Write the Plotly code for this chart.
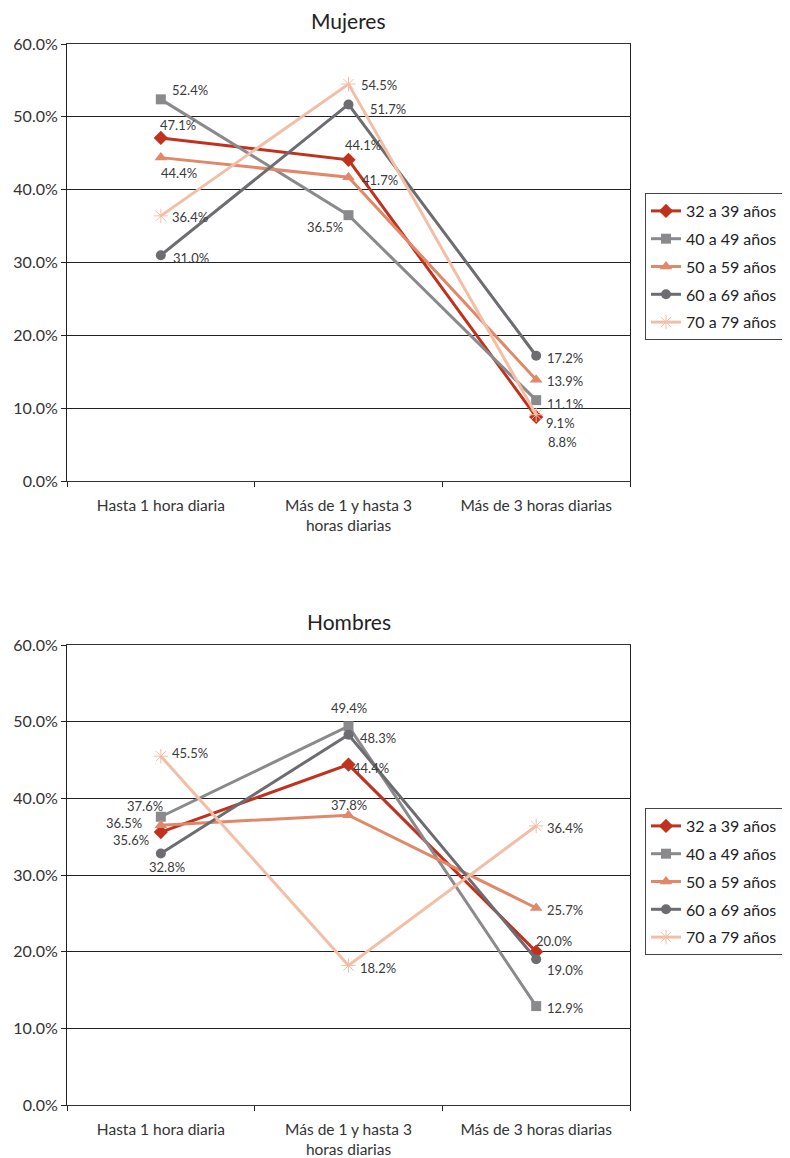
import plotly.graph_objects as go

categories = ["Hasta 1 hora diaria", "Más de 1 y hasta 3<br>horas diarias", "Más de 3 horas diarias"]
series_names = ["32 a 39 años", "40 a 49 años", "50 a 59 años", "60 a 69 años", "70 a 79 años"]

mujeres_32_39 = [47.1, 44.1, 8.8]
mujeres_40_49 = [52.4, 36.5, 11.1]
mujeres_50_59 = [44.4, 41.7, 13.9]
mujeres_60_69 = [31.0, 51.7, 17.2]
mujeres_70_79 = [36.4, 54.5, 9.1]

hombres_32_39 = [35.6, 44.4, 20.0]
hombres_40_49 = [37.6, 49.4, 12.9]
hombres_50_59 = [36.5, 37.8, 25.7]
hombres_60_69 = [32.8, 48.3, 19.0]
hombres_70_79 = [45.5, 18.2, 36.4]

y_ticks = [0, 10, 20, 30, 40, 50, 60]

# styles
colors = ["#C0311E", "#8A8A8D", "#E08868", "#6C6C71", "#F2BFA6"]
symbols = ["diamond", "square", "triangle-up", "circle", "asterisk-open"]
FONT = "Lato"

# label offsets in pixels (xshift, yshift) per series per point
off_m = [
    [(17, 13), (14, 15), (26, -25)],
    [(29, 9), (-24, -12), (29, -4)],
    [(18, -15), (31, -3), (29, -1)],
    [(30, -3), (39, -5), (29, -2)],
    [(29, -1), (30, -1), (24, -8)],
]
off_h = [
    [(-30, -8), (22, -3), (18, 11)],
    [(-16, 11), (0, 18), (29, -2)],
    [(-37, 2), (0, 10), (29, -2)],
    [(6, -13), (29, -3), (29, -11)],
    [(29, 3), (29, -3), (29, -2)],
]

W, H = 790, 1158
OFF = 8  # page body margin
fig = go.Figure()

panels = [
    ("Mujeres", [mujeres_32_39, mujeres_40_49, mujeres_50_59, mujeres_60_69, mujeres_70_79], off_m,
     "x", "y", "legend", (44 - OFF, 481 - OFF), 193 - OFF),
    ("Hombres", [hombres_32_39, hombres_40_49, hombres_50_59, hombres_60_69, hombres_70_79], off_h,
     "x2", "y2", "legend2", (645 - OFF, 1105 - OFF), 808 - OFF),
]

x0, x1 = 67 - OFF, 630 - OFF
layout_updates = {}
annotations = []
for pi, (title, data, offs, xa, ya, lg, (ytop, ybot), legtop) in enumerate(panels):
    for si, (name, vals) in enumerate(zip(series_names, data)):
        is_ast = symbols[si].startswith("asterisk")
        fig.add_trace(go.Scatter(
            x=categories, y=vals, name=name, mode="lines+markers",
            xaxis=xa, yaxis=ya, legend=lg, legendgroup=f"{lg}_{si}",
            line=dict(color=colors[si], width=3),
            marker=dict(symbol=symbols[si], size=12 if is_ast else (11 if si in (0, 2) else 10),
                        color=colors[si],
                        line=dict(color=colors[si], width=1 if is_ast else 0)),
        ))
        for ci, v in enumerate(vals):
            dx, dy = offs[si][ci]
            annotations.append(dict(
                x=categories[ci], y=v, xref=xa, yref=ya, text=f"{v:.1f}%",
                showarrow=False, xshift=dx, yshift=dy,
                font=dict(family=FONT, size=13, color="#3a3a3a"),
            ))
    annotations.append(dict(
        x=(x0 + x1) / 2 / W, y=1 - (ytop - 24) / H, xref="paper", yref="paper",
        text=title, showarrow=False, yanchor="middle",
        font=dict(family=FONT, size=21, color="#222"),
    ))
    ydom = [1 - ybot / H, 1 - ytop / H]
    sfx = "" if pi == 0 else "2"
    layout_updates["xaxis" + sfx] = dict(
        domain=[x0 / W, x1 / W], anchor=ya, type="category", tickson="boundaries",
        ticks="outside", ticklen=5, tickcolor="#222", automargin=False,
        ticklabelstandoff=10,
        showline=True, linecolor="#333", linewidth=1, mirror=True,
        showgrid=False, tickfont=dict(family=FONT, size=15.5, color="#333"),
        range=[-0.5, 2.5],
    )
    layout_updates["yaxis" + sfx] = dict(
        domain=ydom, anchor=xa, range=[0, 60], tickvals=y_ticks,
        ticktext=[f"{t:.1f}%" for t in y_ticks], automargin=False,
        ticks="outside", ticklen=5, tickcolor="#222",
        showline=True, linecolor="#222", linewidth=1, mirror=True,
        showgrid=True, gridcolor="#222", gridwidth=1, zeroline=False,
        tickfont=dict(family=FONT, size=16, color="#333"),
    )
    layout_updates[lg] = dict(
        x=(645 - OFF) / W, y=1 - legtop / H, xanchor="left", yanchor="top",
        bordercolor="#444", borderwidth=1, bgcolor="white",
        font=dict(family=FONT, size=16, color="#222"),
        tracegroupgap=4, itemwidth=30,
    )

fig.update_layout(
    width=W, height=H, margin=dict(l=0, r=0, t=0, b=0, autoexpand=False),
    paper_bgcolor="white", plot_bgcolor="white", showlegend=True,
    annotations=annotations, **layout_updates,
)

fig.write_html("out.html")
